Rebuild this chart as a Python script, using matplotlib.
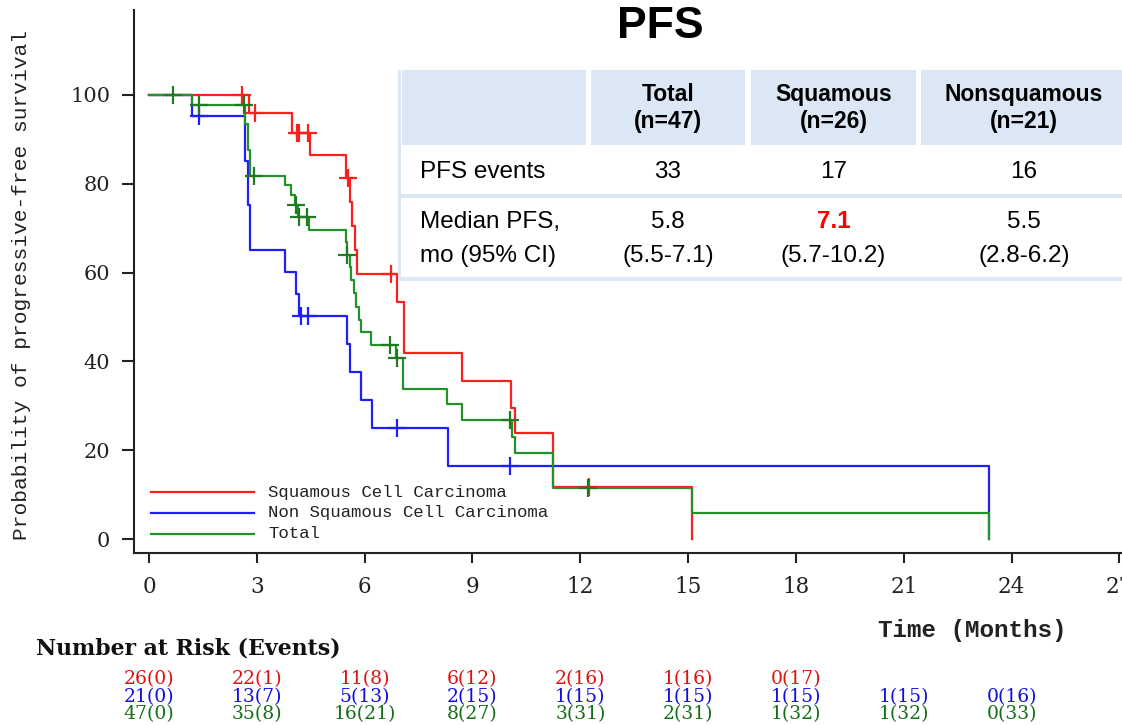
import numpy as np
import matplotlib
matplotlib.use("Agg")
import matplotlib.pyplot as plt
from matplotlib.patches import Rectangle
from matplotlib.lines import Line2D
from matplotlib.transforms import blended_transform_factory

# ---------------- data ----------------
# Squamous cell carcinoma (red)
sq_t = [0, 2.77, 3.98, 4.47, 5.49, 5.59, 5.66, 5.73, 5.80, 6.89, 7.09, 8.70, 10.08, 10.17, 11.25, 15.12]
sq_s = [100, 95.9, 91.4, 86.4, 81.2, 75.8, 70.4, 65.0, 59.6, 53.4, 41.8, 35.6, 29.5, 23.8, 11.8, 0]
sq_cens = [2.58, 2.94, 4.12, 4.18, 4.42, 5.53, 6.72, 12.25]

# Non squamous cell carcinoma (blue)
ns_t = [0, 1.21, 2.68, 2.75, 2.82, 3.79, 4.09, 4.16, 5.50, 5.59, 5.90, 6.21, 8.31, 23.37]
ns_s = [100, 95.2, 85.2, 75.2, 65.1, 60.1, 55.1, 50.1, 43.8, 37.6, 31.3, 25.0, 16.5, 0]
ns_cens = [1.40, 4.22, 4.43, 6.89, 10.05]

# Total (green)
to_t = [0, 1.21, 2.68, 2.75, 2.82, 3.79, 3.96, 4.07, 4.14, 4.46, 5.47, 5.50, 5.58, 5.63,
        5.69, 5.77, 5.85, 5.91, 6.19, 6.88, 7.08, 8.28, 8.70, 10.10, 10.17, 11.25, 15.12, 23.37]
to_s = [100, 97.8, 93.5, 87.5, 81.8, 79.6, 77.4, 75.1, 72.4, 69.6, 66.8, 64.0, 61.2, 58.3,
        55.3, 52.3, 49.3, 46.5, 43.6, 40.7, 33.8, 30.3, 26.9, 23.0, 19.3, 11.5, 5.8, 0]
to_cens = [0.66, 1.40, 2.63, 2.91, 4.09, 4.16, 4.40, 5.52, 6.70, 6.90, 10.05, 12.22]

legend_labels = ["Squamous Cell Carcinoma", "Non Squamous Cell Carcinoma", "Total"]

x_ticks = [0, 3, 6, 9, 12, 15, 18, 21, 24, 27]
y_ticks = [0, 20, 40, 60, 80, 100]

risk_times = [0, 3, 6, 9, 12, 15, 18, 21, 24]
risk_sq = ["26(0)", "22(1)", "11(8)", "6(12)", "2(16)", "1(16)", "0(17)"]
risk_ns = ["21(0)", "13(7)", "5(13)", "2(15)", "1(15)", "1(15)", "1(15)", "1(15)", "0(16)"]
risk_to = ["47(0)", "35(8)", "16(21)", "8(27)", "3(31)", "2(31)", "1(32)", "1(32)", "0(33)"]

tbl_header = ["", "Total\n(n=47)", "Squamous\n(n=26)", "Nonsquamous\n(n=21)"]
tbl_events = ["PFS events", "33", "17", "16"]
tbl_median_label = ["Median PFS,", "mo (95% CI)"]
tbl_median = ["5.8", "7.1", "5.5"]
tbl_ci = ["(5.5-7.1)", "(5.7-10.2)", "(2.8-6.2)"]

# ---------------- styling ----------------
RED = "#ff1e1e"
BLUE = "#1e1eff"
GREEN = "#23922a"
RED_T = "#e01010"
BLUE_T = "#1010dd"
GREEN_T = "#157015"
TBL_BLUE = "#dbe7f4"

W, H = 1122, 725
fig = plt.figure(figsize=(W / 100, H / 100), dpi=100)
fig.patch.set_facecolor("white")


def fx(px):
    return px / W


def fy(py):
    return 1 - py / H


ax = fig.add_axes([fx(134), fy(553), fx(1122 - 134), (553 - 10) / H])
ax.set_xlim(-0.417, 27.07)
ax.set_ylim(-3.15, 119.1)
for s in ["top", "right"]:
    ax.spines[s].set_visible(False)
for s in ["left", "bottom"]:
    ax.spines[s].set_linewidth(1.5)
    ax.spines[s].set_color("#222222")

ax.set_xticks(x_ticks)
ax.set_xticklabels([str(v) for v in x_ticks], family="DejaVu Serif", fontsize=15.5)
ax.set_yticks(y_ticks)
ax.set_yticklabels([str(v) for v in y_ticks], family="DejaVu Serif", fontsize=15)
ax.tick_params(axis="x", direction="out", length=7.5, width=1.5, pad=9, colors="#222222")
ax.tick_params(axis="y", direction="out", length=9, width=1.5, pad=8, colors="#222222")


def draw(t, s, cens, color, cens_color, z):
    t = np.asarray(t, float)
    s = np.asarray(s, float)
    ax.step(t, s, where="post", color=color, lw=1.6, zorder=z)
    c = np.asarray(cens, float)
    idx = np.searchsorted(t, c, side="right") - 1
    ax.plot(c, s[idx], linestyle="none", marker="+", markersize=13, mew=1.6,
            color=cens_color, zorder=z + 0.5)


draw(sq_t, sq_s, sq_cens, RED, RED, 3)
draw(ns_t, ns_s, ns_cens, BLUE, BLUE, 4)
draw(to_t, to_s, to_cens, GREEN, "#1f7a22", 5)

# legend (drawn manually)
for i, (lab, col) in enumerate(zip(legend_labels, [RED, BLUE, GREEN])):
    yy = fy(492 + 21 * i)
    fig.add_artist(Line2D([fx(151), fx(254)], [yy, yy], color=col, lw=1.6,
                          transform=fig.transFigure))
    fig.text(fx(268), yy, lab, family="Liberation Mono", fontsize=12.5,
             color="#222222", ha="left", va="center")

# axis labels
fig.text(fx(22), fy(285), "Probability of progressive-free survival", rotation=90,
         family="Liberation Mono", fontsize=15.3, color="#222222", ha="center", va="center")
fig.text(fx(878), fy(631), "Time (Months)", family="Liberation Mono", fontsize=17.5,
         fontweight="bold", color="#222222", ha="left", va="center")

# number at risk
fig.text(fx(36), fy(648), "Number at Risk (Events)", family="DejaVu Serif",
         fontsize=15.8, fontweight="bold", color="#111111", ha="left", va="center")
tr = blended_transform_factory(ax.transData, fig.transFigure)
for labels, col, py in [(risk_sq, RED_T, 679), (risk_ns, BLUE_T, 697), (risk_to, GREEN_T, 714)]:
    for tt, lab in zip(risk_times, labels):
        ax.text(tt, fy(py), lab, transform=tr, ha="center", va="center",
                family="DejaVu Serif", fontsize=13.5, color=col, clip_on=False)

# title
fig.text(fx(660), fy(27), "PFS", family="Liberation Sans", fontsize=32,
         fontweight="bold", color="black", ha="center", va="center")

# ---------------- summary table ----------------
def rect(x0, y0, x1, y1, color, z=10):
    fig.add_artist(Rectangle((fx(x0), fy(y1)), fx(x1) - fx(x0), fy(y0) - fy(y1),
                             transform=fig.transFigure, facecolor=color,
                             edgecolor="none", zorder=z))


rect(399, 68, 1122, 282, "white", 9)
cols = [(402, 586), (591, 745), (751, 916), (921, 1122)]
for x0, x1 in cols:
    rect(x0, 70, x1, 145, TBL_BLUE)
rect(398, 70, 401, 281, TBL_BLUE)
rect(398, 194, 1122, 198, TBL_BLUE)
rect(398, 277, 1122, 281, TBL_BLUE)

centers = [(x0 + x1) / 2 for x0, x1 in cols]
centers[3] = 1024
for c, txt in zip(centers[1:], tbl_header[1:]):
    fig.text(fx(c), fy(108), txt, family="Liberation Sans", fontsize=16.5,
             fontweight="bold", ha="center", va="center", linespacing=1.25, zorder=12)

fig.text(fx(420), fy(172), tbl_events[0], family="Liberation Sans", fontsize=17.5,
         ha="left", va="center", zorder=12)
for c, txt in zip(centers[1:], tbl_events[1:]):
    fig.text(fx(c), fy(172), txt, family="Liberation Sans", fontsize=17.5,
             ha="center", va="center", zorder=12)

fig.text(fx(420), fy(222), tbl_median_label[0], family="Liberation Sans", fontsize=17.5,
         ha="left", va="center", zorder=12)
fig.text(fx(420), fy(256), tbl_median_label[1], family="Liberation Sans", fontsize=17.5,
         ha="left", va="center", zorder=12)
for i, (c, m, ci) in enumerate(zip(centers[1:], tbl_median, tbl_ci)):
    hl = (i == 1)
    fig.text(fx(c), fy(222), m, family="Liberation Sans", fontsize=17.5,
             ha="center", va="center", zorder=12,
             color="#ff0000" if hl else "black", fontweight="bold" if hl else "normal")
    fig.text(fx(c), fy(256), ci, family="Liberation Sans", fontsize=17.5,
             ha="center", va="center", zorder=12)

fig.savefig("out.png", dpi=100, facecolor="white")
